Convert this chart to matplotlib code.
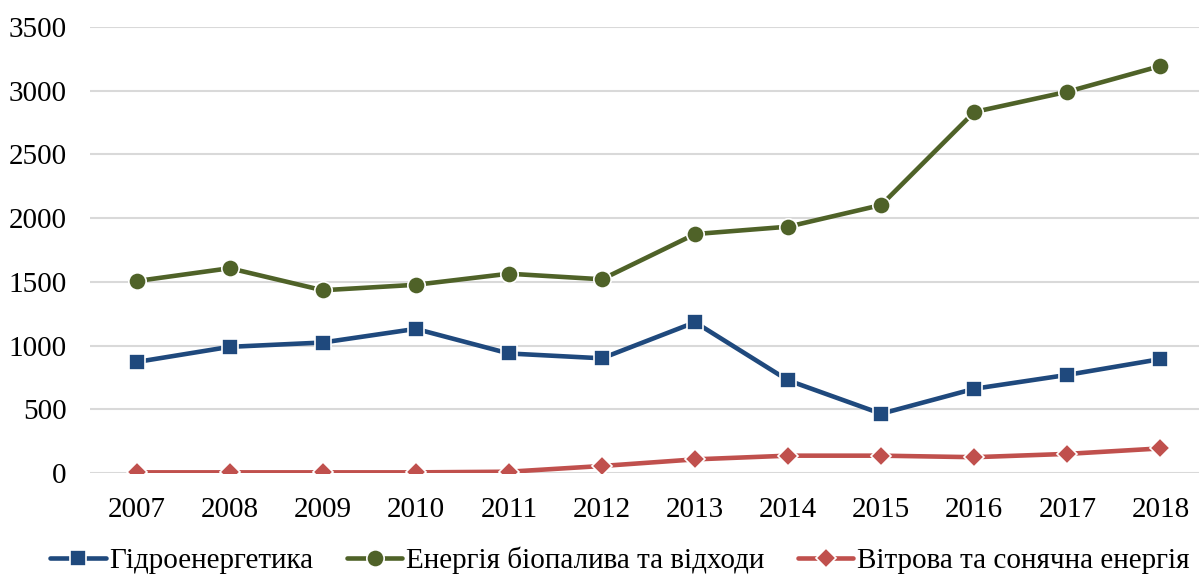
import matplotlib
matplotlib.use("Agg")
import matplotlib.pyplot as plt

years = ["2007", "2008", "2009", "2010", "2011", "2012",
         "2013", "2014", "2015", "2016", "2017", "2018"]
hydro = [871, 990, 1024, 1131, 938, 900, 1183, 727, 465, 661, 770, 894]
biofuel = [1506, 1607, 1434, 1477, 1564, 1520, 1875, 1933, 2103, 2833, 2992, 3194]
wind_solar = [5, 5, 5, 5, 10, 55, 107, 136, 136, 124, 150, 193]

series_names = ["Гідроенергетика", "Енергія біопалива та відходи",
                "Вітрова та сонячна енергія"]
y_ticks = [0, 500, 1000, 1500, 2000, 2500, 3000, 3500]

plt.rcParams["font.family"] = ["Liberation Serif", "DejaVu Serif"]

fig = plt.figure(figsize=(11.99, 5.76), dpi=100)
ax = fig.add_axes([90 / 1199, 103 / 576, 1117 / 1199, 446 / 576])

x = list(range(len(years)))
styles = [
    (hydro, "#1F497D", "s", 11),
    (biofuel, "#4F6228", "o", 12.5),
    (wind_solar, "#C0504D", "D", 10.5),
]
handles = []
for (vals, color, marker, ms), name in zip(styles, series_names):
    h, = ax.plot(x, vals, color=color, lw=3.3, marker=marker, markersize=ms,
                 markerfacecolor=color, markeredgecolor="white",
                 markeredgewidth=1.2, label=name, zorder=3,
                 solid_capstyle="round")
    handles.append(h)

ax.set_xlim(-0.5, len(years) - 0.5)
ax.set_ylim(0, 3500)
ax.set_yticks(y_ticks)
ax.set_yticklabels([str(v) for v in y_ticks])
ax.set_xticks(x)
ax.set_xticklabels(years)
ax.tick_params(axis="both", length=0, labelsize=21, colors="black")
ax.tick_params(axis="x", pad=17)
ax.tick_params(axis="y", pad=17)
ax.grid(axis="y", color="#D9D9D9", lw=1.5, zorder=0)
for s in ax.spines.values():
    s.set_visible(False)

fig.legend(handles=handles, loc="center", bbox_to_anchor=(0.517, 0.027),
           ncol=3, frameon=False, fontsize=21, handlelength=1.9,
           handletextpad=0.12, columnspacing=1.15)

fig.savefig("out.png", dpi=100)
